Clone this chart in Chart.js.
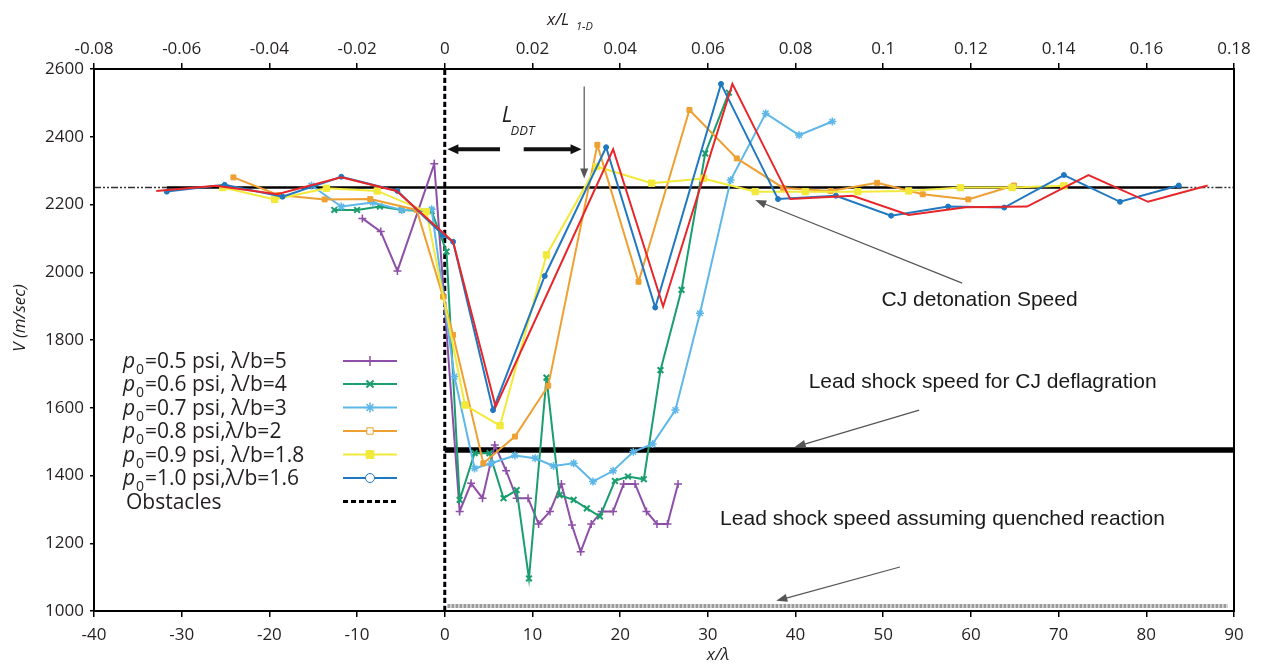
<!DOCTYPE html>
<html>
<head>
<meta charset="utf-8">
<script src="https://cdn.jsdelivr.net/npm/chart.js@4.4.0/dist/chart.umd.min.js"></script>
<style>
html,body{margin:0;padding:0;background:#fff;}
</style>
</head>
<body>
<canvas id="myChart" width="1265" height="667"></canvas>
<script>
// x/lambda positions and speeds (m/s)
var p05x = [-9.4, -7.3, -5.4, -1.2, 1.7, 3.0, 4.3, 5.7, 7.0, 8.2, 9.5, 10.7, 12.0, 13.3, 14.5, 15.5, 16.7, 17.9, 19.2, 20.4, 21.7, 23.0, 24.2, 25.4, 26.6];
var p05v = [2159, 2120, 2004, 2320, 1294, 1377, 1333, 1490, 1414, 1333, 1333, 1257, 1294, 1375, 1254, 1175, 1257, 1294, 1294, 1375, 1375, 1294, 1257, 1257, 1375];

var p06x = [-12.6, -10.0, -7.4, -4.9, -1.5, 0.2, 1.7, 3.4, 5.1, 6.7, 8.2, 9.6, 11.6, 13.1, 14.7, 16.2, 17.7, 19.4, 20.9, 22.7, 24.6, 27.0, 29.7, 32.4];
var p06v = [2184, 2184, 2194, 2184, 2180, 2061, 1328, 1466, 1466, 1333, 1357, 1096, 1689, 1342, 1328, 1303, 1279, 1384, 1397, 1389, 1711, 1948, 2351, 2530];

var p07x = [-15.2, -11.8, -8.2, -4.9, -1.5, 1.1, 3.4, 5.3, 8.0, 10.3, 12.4, 14.7, 16.9, 19.2, 21.5, 23.7, 26.3, 29.1, 32.6, 36.6, 40.4, 44.2];
var p07v = [2256, 2194, 2206, 2184, 2186, 1692, 1421, 1436, 1459, 1451, 1428, 1436, 1382, 1414, 1470, 1493, 1593, 1879, 2272, 2469, 2405, 2445];

var p08x = [-24.1, -19.0, -13.7, -8.5, -3.2, -0.2, 0.95, 4.4, 8.0, 11.8, 17.4, 22.1, 27.9, 33.3, 38.6, 44.0, 49.3, 54.5, 59.7, 64.9];
var p08v = [2280, 2228, 2215, 2216, 2184, 1928, 1815, 1436, 1515, 1665, 2376, 1972, 2479, 2336, 2249, 2240, 2264, 2230, 2215, 2256];

var p09x = [-25.3, -19.4, -13.5, -7.7, -2.1, 2.3, 6.3, 11.6, 17.3, 23.6, 29.5, 35.4, 41.1, 47.1, 52.9, 58.8, 64.7, 70.6];
var p09v = [2250, 2215, 2248, 2240, 2179, 1608, 1547, 2051, 2312, 2263, 2277, 2238, 2238, 2238, 2240, 2250, 2250, 2255];

var p10x = [-31.7, -25.1, -18.5, -11.8, -5.4, -0.2, 0.95, 5.5, 11.4, 18.4, 24.0, 31.5, 38.0, 44.6, 50.9, 57.4, 63.8, 70.6, 77.0, 83.7];
var p10v = [2238, 2258, 2223, 2282, 2240, 2110, 2090, 1593, 1989, 2369, 1896, 2556, 2216, 2226, 2167, 2194, 2191, 2287, 2208, 2256];

var redX = [-32.9, -26.1, -19.1, -11.8, -5.5, 0.95, 5.8, 19.2, 24.9, 32.8, 39.4, 46.5, 52.9, 59.4, 66.4, 73.4, 80.2, 87.0];
var redV = [2240, 2255, 2230, 2280, 2240, 2090, 1603, 2363, 1899, 2556, 2216, 2226, 2169, 2192, 2194, 2287, 2208, 2256];

// reference speeds
var cjSpeed = 2250;
var deflagSpeed = 1475;
var quenchedSpeed = 1015;
var cjSolidX = [-31.7, 84];
var cjDashLeftX = [-40, -31.7];
var cjDashRightX = [84, 90];
var deflagX = [0, 90];
var quenchedX = [0.3, 89.3];
var obstacleX = 0;
var obstacleV = [1000, 2600];

var legendLabels = ['=0.5 psi, \u03bb/b=5', '=0.6 psi, \u03bb/b=4', '=0.7 psi, \u03bb/b=3', '=0.8 psi,\u03bb/b=2', '=0.9 psi, \u03bb/b=1.8', '=1.0 psi,\u03bb/b=1.6', 'Obstacles'];

function pts(xs, vs) {
  var out = [];
  for (var i = 0; i < xs.length; i++) out.push({x: xs[i], y: vs[i]});
  return out;
}
function hline(xs, v) { return [{x: xs[0], y: v}, {x: xs[1], y: v}]; }

function series(data, color, style, radius, bw, legendIdx, legendStyle) {
  return {
    data: data, showLine: true, borderColor: color, backgroundColor: color,
    borderWidth: 2, pointStyle: style, pointRadius: radius, pointBorderWidth: bw,
    pointBackgroundColor: color, pointBorderColor: color, legendIdx: legendIdx,
    legendStyle: legendStyle || style, order: 1
  };
}

var datasets = [
  {data: pts(redX, redV), showLine: true, borderColor: '#e8262a', borderWidth: 2, pointRadius: 0, order: 0},
  series(pts(p10x, p10v), '#1f78c0', 'circle', 2.5, 1, 5, 'circleOpen'),
  series(pts(p09x, p09v), '#f2e93a', 'rect', 4.5, 1, 4),
  series(pts(p08x, p08v), '#eea032', 'rect', 3.5, 1, 3, 'rectOpen'),
  series(pts(p07x, p07v), '#5db7e8', 'star', 4, 1.5, 2),
  series(pts(p06x, p06v), '#1a9e6e', 'crossRot', 4, 2, 1),
  series(pts(p05x, p05v), '#8e4fa8', 'cross', 4, 1.5, 0),
  {data: hline(cjSolidX, cjSpeed), showLine: true, borderColor: '#000', borderWidth: 2.5, pointRadius: 0, order: 2},
  {data: hline(cjDashLeftX, cjSpeed), showLine: true, borderColor: '#333', borderWidth: 1.5, borderDash: [7, 2, 2, 2, 2, 2], pointRadius: 0, order: 2},
  {data: hline(cjDashRightX, cjSpeed), showLine: true, borderColor: '#333', borderWidth: 1.5, borderDash: [7, 2, 2, 2, 2, 2], pointRadius: 0, order: 2},
  {data: hline(deflagX, deflagSpeed), showLine: true, borderColor: '#000', borderWidth: 5.5, pointRadius: 0, order: 2},
  {data: hline(quenchedX, quenchedSpeed), showLine: true, borderColor: '#9a9a9a', borderWidth: 4, borderDash: [3, 1], pointRadius: 0, order: 2},
  {data: [{x: obstacleX, y: obstacleV[0]}, {x: obstacleX, y: obstacleV[1]}], showLine: true, borderColor: '#000', borderWidth: 3, borderDash: [5, 3], pointRadius: 0, order: 2, legendIdx: 6, legendStyle: 'dash'},
  {data: [{x: obstacleX, y: obstacleV[0]}, {x: obstacleX, y: obstacleV[1]}], showLine: true, borderColor: '#c9a0e0', borderWidth: 2, borderDash: [2, 2], pointRadius: 0, order: 3}
];

function arrowHead(ctx, x1, y1, x2, y2, len, wid) {
  var a = Math.atan2(y2 - y1, x2 - x1);
  ctx.beginPath();
  ctx.moveTo(x2, y2);
  ctx.lineTo(x2 - len * Math.cos(a) + wid * Math.sin(a), y2 - len * Math.sin(a) - wid * Math.cos(a));
  ctx.lineTo(x2 - len * Math.cos(a) - wid * Math.sin(a), y2 - len * Math.sin(a) + wid * Math.cos(a));
  ctx.closePath();
  ctx.fill();
}
function arrow(ctx, x1, y1, x2, y2, lw, color, len, wid) {
  ctx.strokeStyle = color; ctx.fillStyle = color; ctx.lineWidth = lw;
  var a = Math.atan2(y2 - y1, x2 - x1);
  ctx.beginPath(); ctx.moveTo(x1, y1);
  ctx.lineTo(x2 - len * 0.7 * Math.cos(a), y2 - len * 0.7 * Math.sin(a)); ctx.stroke();
  arrowHead(ctx, x1, y1, x2, y2, len, wid);
}

var annotations = {
  id: 'annotations',
  afterDatasetsDraw: function(chart) {
    var ctx = chart.ctx, X = chart.scales.x, Y = chart.scales.y;
    function px(v) { return X.getPixelForValue(v); }
    function py(v) { return Y.getPixelForValue(v); }
    ctx.save();
    // L_DDT double arrow
    arrow(ctx, px(6.3), py(2363), px(0.3), py(2363), 4, '#111', 11, 5);
    arrow(ctx, px(9.0), py(2363), px(15.6), py(2363), 4, '#111', 11, 5);
    arrow(ctx, px(15.9), py(2548), px(15.9), py(2277), 1.2, '#555', 10, 4);
    ctx.fillStyle = '#222';
    ctx.font = 'italic 22px "Open Sans"';
    ctx.textBaseline = 'alphabetic'; ctx.textAlign = 'left';
    ctx.fillText('L', px(6.5), py(2443));
    ctx.font = 'italic 13px "Open Sans"';
    ctx.fillText('DDT', px(7.5), py(2405));
    // annotation pointers
    arrow(ctx, px(59.0), py(1968), px(35.4), py(2213), 1.2, '#555', 11, 4);
    arrow(ctx, px(54.1), py(1593), px(39.9), py(1484), 1.2, '#555', 11, 4);
    arrow(ctx, px(51.9), py(1130), px(37.8), py(1030), 1.2, '#555', 11, 4);
    ctx.fillStyle = '#1a1a1a';
    ctx.font = '21px "Liberation Sans"';
    ctx.fillText('CJ detonation Speed', px(49.8), py(1900));
    ctx.fillText('Lead shock speed for CJ deflagration', px(41.5), py(1658));
    ctx.fillText('Lead shock speed assuming quenched reaction', px(31.4), py(1254));
    // frame
    var a = chart.chartArea;
    ctx.strokeStyle = '#000'; ctx.lineWidth = 2;
    ctx.strokeRect(a.left, a.top, a.right - a.left, a.bottom - a.top);
    ctx.restore();
  },
  afterDraw: function(chart) {
    var ctx = chart.ctx;
    ctx.save();
    // legend
    var rows = [361, 384, 407.5, 431, 454.5, 478, 501.5];
    chart.data.datasets.forEach(function(ds) {
      if (ds.legendIdx === undefined) return;
      var i = ds.legendIdx, y = rows[i];
      ctx.fillStyle = '#231f20';
      ctx.textBaseline = 'alphabetic'; ctx.textAlign = 'left';
      var tx = 123;
      if (i < 6) {
        ctx.font = 'italic 21px "Open Sans"';
        ctx.fillText('p', tx, y + 7);
        ctx.font = '14px "Open Sans"';
        ctx.fillText('0', tx + 13, y + 13);
        ctx.font = '21px "Open Sans"';
        ctx.fillText(legendLabels[i], tx + 22, y + 7);
      } else {
        ctx.font = '21px "Open Sans"';
        ctx.fillText(legendLabels[i], tx + 3, y + 7);
      }
      ctx.strokeStyle = ds.borderColor;
      ctx.lineWidth = ds.legendStyle === 'dash' ? 3 : 2;
      ctx.setLineDash(ds.legendStyle === 'dash' ? [5, 3] : []);
      ctx.beginPath(); ctx.moveTo(343, y); ctx.lineTo(397, y); ctx.stroke();
      ctx.setLineDash([]);
      if (ds.legendStyle !== 'dash') {
        var st = ds.legendStyle, open = false;
        if (st === 'circleOpen') { st = 'circle'; open = true; }
        if (st === 'rectOpen') { st = 'rect'; open = true; }
        ctx.fillStyle = open ? '#fff' : ds.borderColor;
        ctx.strokeStyle = ds.borderColor;
        ctx.lineWidth = ds.pointBorderWidth;
        Chart.helpers.drawPoint(ctx, {pointStyle: st, radius: open ? 4.5 : ds.pointRadius + 1, borderWidth: open ? 1.5 : ds.pointBorderWidth, rotation: 0}, 370, y);
      }
    });
    // axis titles
    ctx.fillStyle = '#231f20';
    ctx.font = 'italic 17px "Open Sans"';
    ctx.textAlign = 'center'; ctx.textBaseline = 'middle';
    ctx.save();
    ctx.translate(20, 318); ctx.rotate(-Math.PI / 2);
    ctx.fillText('V (m/sec)', 0, 0);
    ctx.restore();
    ctx.fillText('x/\u03bb', 718, 655);
    ctx.textAlign = 'left';
    ctx.fillText('x/L', 547, 20);
    ctx.font = 'italic 11px "Open Sans"';
    ctx.fillText('1-D', 576, 27);
    ctx.restore();
  }
};

var tickFont = {family: 'Open Sans', size: 17};
var myChart = document.getElementById('myChart').getContext('2d');
var chart = new Chart(myChart, {
  type: 'scatter',
  data: {datasets: datasets},
  options: {
    responsive: false,
    animation: false,
    layout: {padding: {left: 0, right: 31, top: 0, bottom: 0}},
    plugins: {legend: {display: false}, tooltip: {enabled: false}},
    elements: {line: {tension: 0}},
    scales: {
      x: {
        type: 'linear', position: 'bottom', min: -40, max: 90,
        ticks: {stepSize: 10, color: '#231f20', font: tickFont, padding: 8, maxRotation: 0,
          callback: function(v) { return String(v); }},
        grid: {drawOnChartArea: false, drawTicks: true, tickLength: 6, color: '#000', lineWidth: 1.5},
        border: {display: true, color: '#000', width: 2},
        afterFit: function(s) { s.height = 56; }
      },
      x2: {
        type: 'linear', position: 'top', min: -0.08, max: 0.18,
        ticks: {stepSize: 0.02, color: '#231f20', font: tickFont, padding: 4, maxRotation: 0,
          callback: function(v) { return String(Number(v.toFixed(2))); }},
        grid: {drawOnChartArea: false, drawTicks: true, tickLength: 6, color: '#000', lineWidth: 1.5},
        border: {display: true, color: '#000', width: 2},
        afterFit: function(s) { s.height = 69; }
      },
      y: {
        type: 'linear', min: 1000, max: 2600,
        ticks: {stepSize: 200, color: '#231f20', font: tickFont, padding: 6,
          callback: function(v) { return String(v); }},
        grid: {drawOnChartArea: false, drawTicks: true, tickLength: 4, color: '#000', lineWidth: 1.5},
        border: {display: true, color: '#000', width: 2},
        afterFit: function(s) { s.width = 94; }
      }
    }
  },
  plugins: [annotations]
});
</script>
</body>
</html>
